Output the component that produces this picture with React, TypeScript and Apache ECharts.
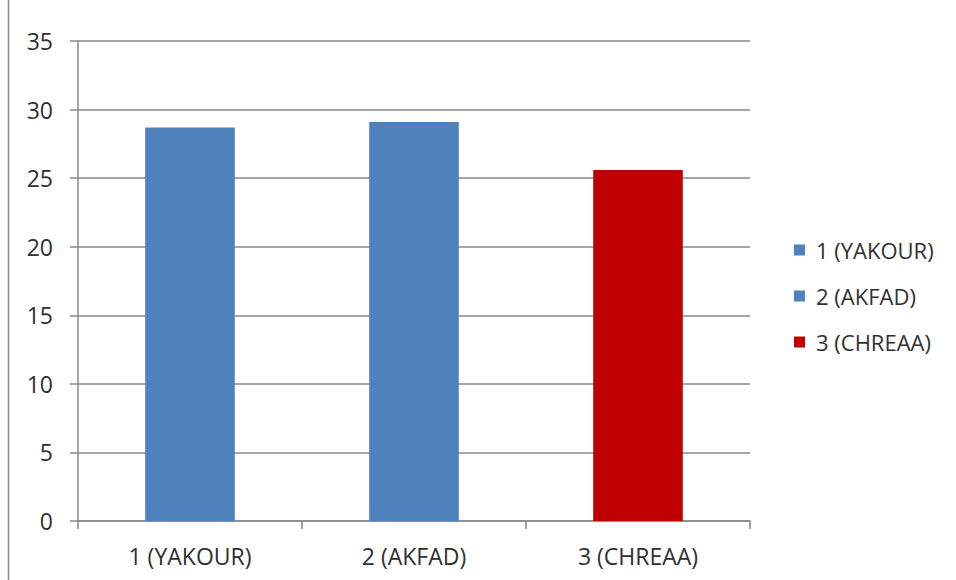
import React, { useEffect, useRef } from "react";
import * as echarts from "echarts";

const categories = ["1 (YAKOUR)", "2 (AKFAD)", "3 (CHREAA)"];
const values = [28.7, 29.1, 25.6];
const barColors = ["#4F81BD", "#4F81BD", "#C00000"];
const yTicks = { min: 0, max: 35, interval: 5 };

const FONT = "'Open Sans', sans-serif";
const TEXT = "#303030";
const GRID = "#898989";

export default function App() {
  const ref = useRef<HTMLDivElement>(null);

  useEffect(() => {
    if (!ref.current) return;
    const chart = echarts.init(ref.current, undefined, { renderer: "svg" });

    // one series per category, all sharing the same slot so each bar sits centred
    const series = categories.map((name, i) => ({
      name,
      type: "bar",
      barWidth: "40%",
      barGap: "-100%",
      itemStyle: { color: barColors[i] },
      data: categories.map((_, j) => (j === i ? values[i] : "-")),
    }));

    chart.setOption({
      animation: false,
      backgroundColor: "#ffffff",
      textStyle: { fontFamily: FONT, color: TEXT },
      grid: { left: 78, right: 206, top: 41, bottom: 59, containLabel: false },
      legend: {
        orient: "vertical",
        left: 794,
        top: 239,
        padding: 0,
        icon: "rect",
        itemWidth: 11,
        itemHeight: 11,
        itemGap: 24,
        textStyle: {
          fontFamily: FONT,
          fontSize: 22,
          color: TEXT,
          padding: [0, 0, 0, 6],
        },
        data: categories,
      },
      xAxis: {
        type: "category",
        data: categories,
        axisLine: { show: true, lineStyle: { color: GRID, width: 1.5 } },
        axisTick: {
          show: true,
          interval: 0,
          alignWithLabel: false,
          length: 8,
          lineStyle: { color: GRID, width: 1.5 },
        },
        axisLabel: {
          fontFamily: FONT,
          fontSize: 23,
          color: TEXT,
          margin: 23,
          interval: 0,
        },
      },
      yAxis: {
        type: "value",
        min: yTicks.min,
        max: yTicks.max,
        interval: yTicks.interval,
        axisLine: { show: true, lineStyle: { color: GRID, width: 1.5 } },
        axisTick: { show: true, length: 8, lineStyle: { color: GRID, width: 1.5 } },
        axisLabel: {
          fontFamily: FONT,
          fontSize: 23,
          color: TEXT,
          margin: 25,
        },
        splitLine: { show: true, lineStyle: { color: GRID, width: 1.5 } },
      },
      graphic: [
        {
          type: "line",
          shape: { x1: 8.5, y1: 0, x2: 8.5, y2: 580 },
          style: { stroke: "#8c8c8c", lineWidth: 1.5 },
        },
      ],
      series,
    });

    return () => chart.dispose();
  }, []);

  return (
    <div
      ref={ref}
      style={{ position: "fixed", left: 0, top: 0, width: 956, height: 580 }}
    />
  );
}
